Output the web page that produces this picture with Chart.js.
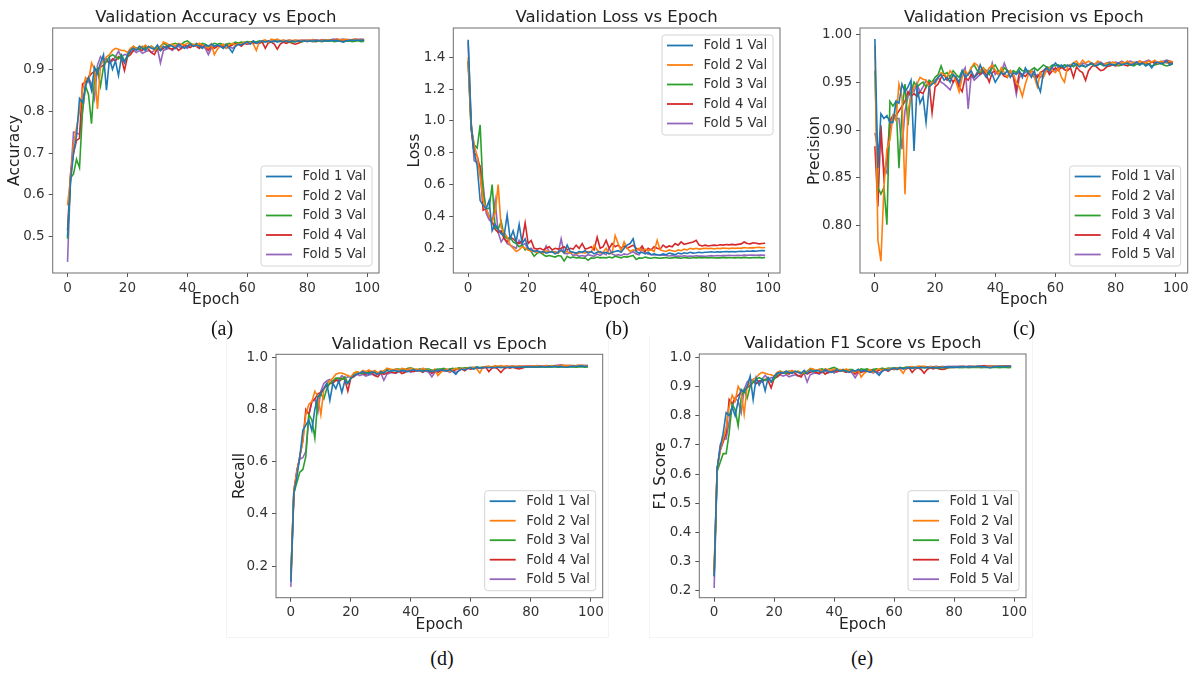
<!DOCTYPE html>
<html>
<head>
<meta charset="utf-8">
<script src="https://cdn.jsdelivr.net/npm/chart.js@4.4.1/dist/chart.umd.min.js"></script>
<style>
  body { margin: 0; background: #fff; width: 1192px; height: 673px; overflow: hidden; position: relative; }
  canvas { position: absolute; }
  .cap { position: absolute; font: 20px 'Liberation Serif', serif; color: #111; transform: translate(-50%, -50%); }
  .panel { position: absolute; border: 1px solid #f4f4f4; border-top: none; }
</style>
</head>
<body>
<div class="panel" style="left:226px;top:336px;width:381px;height:301px"></div>
<div class="panel" style="left:649px;top:336px;width:382px;height:301px"></div>
<canvas id="acc"></canvas>
<canvas id="loss"></canvas>
<canvas id="prec"></canvas>
<canvas id="rec"></canvas>
<canvas id="f1"></canvas>
<div class="cap" style="left:222px;top:328px">(a)</div>
<div class="cap" style="left:617px;top:328px">(b)</div>
<div class="cap" style="left:1024px;top:328px">(c)</div>
<div class="cap" style="left:442px;top:658px">(d)</div>
<div class="cap" style="left:862px;top:658px">(e)</div>
<script>
// epochs 0..99 on the x axis
var epochs = Array.from({ length: 100 }, function (_, i) { return i; });
var foldLabels = ['Fold 1 Val', 'Fold 2 Val', 'Fold 3 Val', 'Fold 4 Val', 'Fold 5 Val'];
var foldColors = ['#1f77b4', '#ff7f0e', '#2ca02c', '#d62728', '#9467bd'];

// accuracy
var accFold1 = [0.500,0.630,0.700,0.740,0.830,0.820,0.860,0.880,0.850,0.905,
  0.890,0.915,0.935,0.850,0.925,0.900,0.920,0.885,0.930,0.915,
  0.935,0.945,0.950,0.945,0.955,0.950,0.945,0.955,0.950,0.948,
  0.958,0.945,0.955,0.950,0.958,0.955,0.950,0.960,0.955,0.950,
  0.955,0.960,0.955,0.958,0.955,0.950,0.958,0.955,0.960,0.955,
  0.958,0.955,0.950,0.958,0.950,0.940,0.955,0.960,0.958,0.962,
  0.965,0.960,0.968,0.962,0.965,0.968,0.965,0.968,0.965,0.968,
  0.965,0.968,0.966,0.968,0.966,0.968,0.966,0.968,0.967,0.968,
  0.967,0.968,0.967,0.969,0.968,0.967,0.969,0.968,0.970,0.968,
  0.969,0.967,0.965,0.968,0.969,0.970,0.969,0.970,0.969,0.970];
var accFold2 = [0.575,0.640,0.720,0.760,0.800,0.850,0.880,0.870,0.915,0.900,
  0.805,0.910,0.920,0.930,0.935,0.945,0.950,0.948,0.945,0.945,
  0.940,0.950,0.955,0.948,0.955,0.952,0.958,0.950,0.955,0.945,
  0.955,0.950,0.965,0.962,0.958,0.960,0.955,0.962,0.960,0.958,
  0.962,0.958,0.960,0.955,0.962,0.958,0.955,0.950,0.960,0.935,
  0.948,0.955,0.960,0.950,0.958,0.962,0.958,0.962,0.960,0.965,
  0.962,0.965,0.960,0.945,0.965,0.968,0.970,0.965,0.972,0.970,
  0.972,0.968,0.970,0.968,0.970,0.968,0.970,0.969,0.968,0.970,
  0.968,0.970,0.969,0.970,0.968,0.970,0.969,0.971,0.970,0.969,
  0.970,0.971,0.970,0.972,0.970,0.971,0.972,0.971,0.970,0.971];
var accFold3 = [0.495,0.640,0.650,0.685,0.665,0.800,0.860,0.840,0.770,0.880,
  0.900,0.860,0.905,0.920,0.930,0.935,0.930,0.925,0.935,0.920,
  0.930,0.945,0.955,0.950,0.948,0.955,0.950,0.952,0.955,0.950,
  0.948,0.955,0.962,0.958,0.955,0.960,0.962,0.958,0.960,0.965,
  0.968,0.962,0.958,0.960,0.958,0.962,0.960,0.955,0.958,0.962,
  0.960,0.962,0.958,0.960,0.962,0.960,0.965,0.963,0.965,0.964,
  0.966,0.965,0.967,0.965,0.968,0.966,0.968,0.967,0.966,0.968,
  0.967,0.966,0.968,0.967,0.966,0.965,0.966,0.967,0.966,0.967,
  0.968,0.967,0.966,0.968,0.967,0.966,0.968,0.967,0.968,0.966,
  0.967,0.968,0.966,0.967,0.968,0.966,0.967,0.968,0.966,0.967];
var accFold4 = [0.515,0.650,0.700,0.730,0.735,0.865,0.870,0.880,0.890,0.895,
  0.900,0.905,0.910,0.920,0.915,0.925,0.920,0.930,0.925,0.897,
  0.930,0.935,0.945,0.950,0.948,0.945,0.955,0.948,0.940,0.935,
  0.950,0.945,0.950,0.955,0.950,0.948,0.955,0.945,0.950,0.958,
  0.955,0.952,0.958,0.955,0.950,0.958,0.955,0.945,0.955,0.950,
  0.955,0.958,0.955,0.960,0.955,0.958,0.962,0.960,0.955,0.962,
  0.960,0.965,0.962,0.965,0.962,0.965,0.950,0.963,0.965,0.960,
  0.948,0.960,0.965,0.962,0.965,0.962,0.960,0.962,0.965,0.968,
  0.966,0.968,0.967,0.966,0.968,0.969,0.967,0.968,0.969,0.970,
  0.972,0.970,0.969,0.970,0.968,0.970,0.969,0.971,0.970,0.968];
var accFold5 = [0.440,0.640,0.750,0.748,0.745,0.800,0.860,0.880,0.865,0.830,
  0.910,0.930,0.920,0.925,0.915,0.920,0.930,0.943,0.930,0.935,
  0.935,0.940,0.945,0.940,0.945,0.938,0.942,0.945,0.940,0.945,
  0.950,0.915,0.945,0.948,0.950,0.945,0.952,0.955,0.950,0.955,
  0.950,0.958,0.955,0.962,0.958,0.955,0.950,0.935,0.950,0.955,
  0.958,0.955,0.955,0.950,0.955,0.950,0.955,0.960,0.958,0.962,
  0.960,0.962,0.965,0.962,0.966,0.965,0.967,0.965,0.968,0.966,
  0.968,0.967,0.969,0.968,0.970,0.968,0.969,0.968,0.970,0.969,
  0.970,0.969,0.971,0.970,0.969,0.971,0.970,0.969,0.971,0.972,
  0.970,0.971,0.972,0.970,0.971,0.970,0.972,0.971,0.972,0.971];

// loss
var lossFold1 = [1.510,0.980,0.800,0.720,0.500,0.470,0.450,0.500,0.310,0.350,
  0.320,0.290,0.280,0.410,0.260,0.310,0.240,0.350,0.230,0.260,
  0.200,0.190,0.180,0.185,0.175,0.180,0.170,0.175,0.180,0.165,
  0.175,0.190,0.170,0.220,0.180,0.175,0.170,0.180,0.175,0.185,
  0.170,0.180,0.165,0.175,0.180,0.170,0.175,0.165,0.175,0.180,
  0.185,0.175,0.200,0.220,0.230,0.260,0.180,0.170,0.175,0.165,
  0.175,0.160,0.165,0.160,0.158,0.165,0.160,0.170,0.165,0.160,
  0.170,0.165,0.172,0.168,0.175,0.170,0.172,0.175,0.172,0.175,
  0.175,0.178,0.175,0.178,0.176,0.178,0.180,0.178,0.180,0.178,
  0.180,0.182,0.180,0.183,0.182,0.184,0.182,0.185,0.186,0.185];
var lossFold2 = [1.400,0.970,0.850,0.780,0.650,0.500,0.450,0.400,0.370,0.420,
  0.600,0.330,0.300,0.270,0.220,0.200,0.180,0.190,0.210,0.200,
  0.190,0.180,0.185,0.175,0.180,0.170,0.185,0.178,0.180,0.175,
  0.170,0.185,0.175,0.180,0.170,0.175,0.165,0.170,0.175,0.170,
  0.180,0.175,0.220,0.190,0.170,0.175,0.200,0.165,0.170,0.280,
  0.230,0.185,0.240,0.200,0.180,0.190,0.185,0.200,0.185,0.195,
  0.185,0.190,0.180,0.250,0.190,0.185,0.180,0.190,0.185,0.180,
  0.190,0.185,0.195,0.190,0.200,0.195,0.200,0.195,0.198,0.200,
  0.198,0.200,0.196,0.200,0.198,0.202,0.200,0.198,0.202,0.200,
  0.202,0.200,0.205,0.202,0.204,0.203,0.205,0.206,0.204,0.205];
var lossFold3 = [1.380,0.950,0.850,0.830,0.975,0.550,0.450,0.450,0.600,0.330,
  0.320,0.370,0.280,0.260,0.270,0.240,0.230,0.210,0.220,0.190,
  0.200,0.180,0.150,0.170,0.175,0.160,0.150,0.155,0.150,0.145,
  0.155,0.150,0.120,0.150,0.140,0.145,0.140,0.142,0.138,0.140,
  0.125,0.140,0.138,0.145,0.140,0.142,0.140,0.145,0.140,0.150,
  0.145,0.140,0.148,0.145,0.150,0.155,0.130,0.140,0.138,0.145,
  0.140,0.138,0.142,0.140,0.138,0.140,0.142,0.138,0.140,0.142,
  0.140,0.138,0.142,0.140,0.138,0.142,0.140,0.143,0.140,0.142,
  0.140,0.142,0.139,0.141,0.140,0.143,0.140,0.142,0.141,0.140,
  0.142,0.140,0.143,0.141,0.140,0.142,0.141,0.143,0.140,0.142];
var lossFold4 = [1.370,0.950,0.800,0.780,0.700,0.440,0.450,0.400,0.370,0.320,
  0.300,0.310,0.260,0.240,0.270,0.260,0.240,0.230,0.250,0.360,
  0.230,0.250,0.200,0.195,0.200,0.190,0.200,0.210,0.190,0.200,
  0.195,0.200,0.210,0.190,0.200,0.195,0.220,0.200,0.230,0.195,
  0.200,0.210,0.190,0.270,0.200,0.210,0.250,0.200,0.230,0.210,
  0.220,0.200,0.215,0.200,0.210,0.220,0.200,0.190,0.215,0.180,
  0.200,0.190,0.210,0.200,0.195,0.220,0.205,0.215,0.210,0.230,
  0.220,0.240,0.225,0.230,0.235,0.240,0.250,0.220,0.215,0.220,
  0.215,0.218,0.220,0.218,0.222,0.220,0.224,0.222,0.225,0.222,
  0.225,0.228,0.240,0.230,0.228,0.235,0.232,0.228,0.230,0.232];
var lossFold5 = [1.500,1.000,0.750,0.740,0.720,0.600,0.420,0.380,0.360,0.500,
  0.300,0.240,0.270,0.230,0.220,0.210,0.200,0.250,0.220,0.230,
  0.190,0.200,0.180,0.175,0.180,0.170,0.215,0.180,0.175,0.180,
  0.170,0.260,0.170,0.165,0.175,0.155,0.160,0.150,0.155,0.150,
  0.160,0.155,0.150,0.165,0.155,0.170,0.160,0.200,0.165,0.155,
  0.160,0.155,0.165,0.160,0.170,0.180,0.165,0.160,0.200,0.170,
  0.165,0.160,0.158,0.160,0.155,0.158,0.155,0.152,0.155,0.150,
  0.152,0.150,0.153,0.150,0.152,0.150,0.153,0.151,0.152,0.150,
  0.152,0.154,0.152,0.155,0.153,0.155,0.154,0.156,0.155,0.154,
  0.156,0.155,0.157,0.156,0.158,0.157,0.156,0.158,0.157,0.156];

// precision
var precFold1 = [0.995,0.860,0.917,0.912,0.915,0.908,0.908,0.930,0.928,0.948,
  0.940,0.945,0.952,0.878,0.945,0.928,0.935,0.908,0.945,0.948,
  0.950,0.955,0.958,0.952,0.955,0.950,0.958,0.955,0.950,0.962,
  0.955,0.958,0.962,0.955,0.958,0.968,0.960,0.955,0.962,0.958,
  0.950,0.955,0.960,0.958,0.962,0.955,0.960,0.958,0.962,0.955,
  0.965,0.960,0.955,0.962,0.948,0.940,0.960,0.965,0.962,0.966,
  0.970,0.966,0.968,0.965,0.968,0.966,0.970,0.968,0.966,0.968,
  0.966,0.968,0.970,0.967,0.968,0.970,0.968,0.967,0.969,0.968,
  0.968,0.970,0.968,0.969,0.970,0.968,0.969,0.971,0.968,0.970,
  0.967,0.969,0.965,0.970,0.971,0.969,0.970,0.972,0.968,0.970];
var precFold2 = [0.988,0.785,0.763,0.840,0.880,0.890,0.915,0.910,0.948,0.935,
  0.833,0.920,0.935,0.945,0.948,0.955,0.953,0.952,0.945,0.950,
  0.948,0.955,0.960,0.958,0.955,0.962,0.958,0.950,0.940,0.955,
  0.962,0.958,0.965,0.970,0.968,0.962,0.965,0.960,0.965,0.968,
  0.962,0.958,0.965,0.960,0.955,0.962,0.958,0.950,0.945,0.935,
  0.948,0.958,0.962,0.955,0.945,0.960,0.955,0.962,0.965,0.962,
  0.960,0.965,0.955,0.950,0.966,0.968,0.970,0.972,0.968,0.973,
  0.970,0.972,0.970,0.968,0.972,0.970,0.968,0.970,0.969,0.971,
  0.970,0.968,0.971,0.970,0.972,0.969,0.971,0.970,0.972,0.971,
  0.970,0.972,0.971,0.973,0.970,0.972,0.971,0.970,0.972,0.971];
var precFold3 = [0.962,0.840,0.833,0.840,0.801,0.930,0.925,0.930,0.860,0.920,
  0.948,0.905,0.940,0.950,0.945,0.948,0.950,0.945,0.952,0.950,
  0.955,0.958,0.967,0.958,0.960,0.955,0.962,0.958,0.955,0.962,
  0.960,0.958,0.965,0.968,0.962,0.960,0.965,0.962,0.958,0.965,
  0.968,0.962,0.960,0.965,0.962,0.960,0.962,0.960,0.965,0.962,
  0.962,0.960,0.963,0.965,0.962,0.965,0.968,0.966,0.965,0.968,
  0.967,0.968,0.966,0.968,0.967,0.968,0.966,0.969,0.968,0.967,
  0.966,0.968,0.969,0.967,0.968,0.969,0.967,0.968,0.970,0.968,
  0.969,0.967,0.968,0.970,0.969,0.968,0.967,0.969,0.968,0.970,
  0.968,0.969,0.967,0.968,0.969,0.970,0.968,0.967,0.968,0.969];
var precFold4 = [0.883,0.820,0.905,0.850,0.870,0.910,0.915,0.915,0.920,0.925,
  0.930,0.940,0.935,0.938,0.935,0.940,0.938,0.945,0.950,0.918,
  0.945,0.948,0.955,0.958,0.952,0.955,0.950,0.955,0.945,0.940,
  0.955,0.952,0.958,0.955,0.960,0.958,0.962,0.958,0.950,0.960,
  0.962,0.958,0.960,0.956,0.955,0.962,0.958,0.942,0.960,0.958,
  0.956,0.960,0.962,0.958,0.955,0.960,0.962,0.965,0.958,0.962,
  0.965,0.962,0.966,0.963,0.962,0.965,0.955,0.966,0.962,0.960,
  0.952,0.962,0.966,0.968,0.965,0.962,0.963,0.966,0.967,0.968,
  0.967,0.968,0.969,0.968,0.967,0.969,0.968,0.970,0.969,0.971,
  0.970,0.969,0.971,0.970,0.969,0.970,0.971,0.972,0.970,0.971];
var precFold5 = [0.897,0.880,0.890,0.860,0.855,0.900,0.915,0.912,0.912,0.880,
  0.920,0.935,0.945,0.940,0.948,0.940,0.945,0.952,0.948,0.950,
  0.952,0.955,0.950,0.948,0.945,0.942,0.950,0.955,0.945,0.960,
  0.965,0.922,0.958,0.952,0.955,0.958,0.960,0.962,0.958,0.970,
  0.958,0.962,0.960,0.970,0.962,0.960,0.955,0.937,0.955,0.958,
  0.960,0.962,0.958,0.955,0.958,0.955,0.958,0.962,0.960,0.965,
  0.962,0.966,0.965,0.968,0.966,0.968,0.967,0.969,0.968,0.970,
  0.969,0.968,0.970,0.969,0.970,0.971,0.969,0.970,0.971,0.970,
  0.971,0.970,0.972,0.970,0.971,0.972,0.970,0.971,0.972,0.970,
  0.972,0.973,0.971,0.972,0.970,0.971,0.972,0.973,0.972,0.971];

// recall
var recFold1 = [0.140,0.480,0.540,0.620,0.720,0.740,0.760,0.720,0.800,0.850,
  0.860,0.880,0.900,0.835,0.900,0.880,0.910,0.865,0.910,0.900,
  0.920,0.930,0.935,0.940,0.945,0.940,0.935,0.945,0.940,0.935,
  0.945,0.940,0.950,0.945,0.950,0.948,0.945,0.950,0.948,0.945,
  0.950,0.952,0.948,0.950,0.945,0.950,0.948,0.945,0.950,0.948,
  0.952,0.950,0.948,0.952,0.945,0.935,0.950,0.955,0.952,0.958,
  0.960,0.955,0.962,0.958,0.960,0.962,0.960,0.962,0.960,0.963,
  0.960,0.962,0.961,0.963,0.962,0.963,0.962,0.964,0.963,0.964,
  0.963,0.964,0.963,0.965,0.964,0.963,0.965,0.964,0.966,0.964,
  0.965,0.963,0.962,0.965,0.966,0.965,0.966,0.967,0.965,0.966];
var recFold2 = [0.150,0.490,0.560,0.620,0.680,0.780,0.820,0.830,0.870,0.850,
  0.780,0.880,0.900,0.910,0.920,0.935,0.940,0.940,0.935,0.930,
  0.925,0.940,0.945,0.940,0.950,0.945,0.952,0.945,0.950,0.940,
  0.948,0.945,0.958,0.955,0.952,0.955,0.950,0.958,0.955,0.952,
  0.958,0.952,0.955,0.950,0.958,0.952,0.950,0.945,0.955,0.930,
  0.942,0.950,0.955,0.945,0.952,0.958,0.952,0.958,0.955,0.960,
  0.958,0.962,0.955,0.940,0.962,0.965,0.966,0.962,0.968,0.966,
  0.968,0.965,0.967,0.965,0.967,0.965,0.966,0.966,0.965,0.967,
  0.965,0.967,0.966,0.967,0.965,0.967,0.966,0.968,0.967,0.966,
  0.967,0.968,0.967,0.969,0.967,0.968,0.969,0.968,0.967,0.968];
var recFold3 = [0.150,0.480,0.520,0.560,0.570,0.620,0.780,0.760,0.690,0.840,
  0.860,0.840,0.880,0.900,0.910,0.920,0.920,0.915,0.925,0.900,
  0.920,0.935,0.945,0.940,0.938,0.945,0.940,0.942,0.945,0.940,
  0.940,0.948,0.955,0.952,0.948,0.955,0.955,0.950,0.952,0.958,
  0.960,0.955,0.952,0.955,0.952,0.955,0.955,0.950,0.952,0.955,
  0.955,0.958,0.952,0.955,0.958,0.955,0.960,0.958,0.960,0.960,
  0.962,0.960,0.963,0.961,0.963,0.962,0.964,0.963,0.962,0.964,
  0.963,0.962,0.964,0.963,0.962,0.961,0.962,0.963,0.962,0.963,
  0.964,0.963,0.962,0.964,0.963,0.962,0.964,0.963,0.964,0.962,
  0.963,0.964,0.962,0.963,0.964,0.962,0.963,0.964,0.962,0.963];
var recFold4 = [0.160,0.490,0.560,0.620,0.680,0.800,0.780,0.830,0.840,0.860,
  0.865,0.880,0.890,0.900,0.900,0.915,0.905,0.920,0.915,0.870,
  0.920,0.925,0.935,0.940,0.938,0.935,0.945,0.940,0.930,0.925,
  0.940,0.935,0.940,0.945,0.942,0.940,0.948,0.938,0.942,0.950,
  0.948,0.945,0.950,0.948,0.942,0.950,0.948,0.938,0.948,0.942,
  0.948,0.952,0.948,0.955,0.948,0.952,0.958,0.955,0.948,0.958,
  0.955,0.960,0.958,0.960,0.958,0.962,0.945,0.958,0.962,0.955,
  0.942,0.955,0.962,0.958,0.962,0.958,0.955,0.958,0.962,0.965,
  0.963,0.965,0.964,0.963,0.965,0.966,0.964,0.965,0.966,0.968,
  0.970,0.968,0.966,0.967,0.965,0.967,0.966,0.968,0.967,0.965];
var recFold5 = [0.120,0.470,0.570,0.610,0.615,0.640,0.780,0.830,0.840,0.790,
  0.870,0.900,0.910,0.915,0.905,0.910,0.915,0.930,0.920,0.925,
  0.925,0.930,0.935,0.930,0.935,0.928,0.932,0.935,0.930,0.935,
  0.940,0.912,0.935,0.940,0.942,0.938,0.945,0.948,0.942,0.948,
  0.942,0.950,0.948,0.955,0.950,0.948,0.942,0.925,0.942,0.948,
  0.952,0.948,0.948,0.942,0.948,0.942,0.948,0.955,0.952,0.958,
  0.955,0.958,0.962,0.958,0.963,0.962,0.964,0.962,0.965,0.963,
  0.965,0.964,0.966,0.965,0.967,0.965,0.966,0.965,0.967,0.966,
  0.967,0.966,0.968,0.967,0.966,0.968,0.967,0.966,0.968,0.969,
  0.967,0.968,0.969,0.967,0.968,0.967,0.969,0.968,0.969,0.968];

// f1 score
var f1Fold1 = [0.250,0.620,0.690,0.740,0.810,0.800,0.830,0.800,0.850,0.890,
  0.880,0.900,0.935,0.855,0.930,0.905,0.925,0.885,0.930,0.915,
  0.935,0.945,0.948,0.945,0.952,0.948,0.945,0.952,0.948,0.945,
  0.955,0.945,0.955,0.950,0.955,0.953,0.948,0.958,0.952,0.948,
  0.952,0.958,0.952,0.955,0.952,0.948,0.955,0.952,0.958,0.952,
  0.955,0.952,0.948,0.955,0.948,0.938,0.952,0.958,0.955,0.960,
  0.963,0.958,0.965,0.960,0.963,0.965,0.962,0.965,0.963,0.966,
  0.963,0.966,0.964,0.966,0.964,0.966,0.965,0.967,0.966,0.967,
  0.966,0.967,0.966,0.968,0.967,0.966,0.968,0.967,0.969,0.967,
  0.968,0.966,0.964,0.967,0.968,0.969,0.968,0.969,0.968,0.969];
var f1Fold2 = [0.260,0.620,0.680,0.720,0.760,0.830,0.870,0.850,0.900,0.880,
  0.805,0.900,0.915,0.925,0.930,0.942,0.948,0.945,0.942,0.940,
  0.935,0.948,0.952,0.945,0.952,0.950,0.955,0.948,0.952,0.942,
  0.952,0.948,0.962,0.960,0.955,0.958,0.952,0.960,0.958,0.955,
  0.960,0.955,0.958,0.952,0.960,0.955,0.952,0.948,0.958,0.932,
  0.945,0.952,0.958,0.948,0.955,0.960,0.955,0.960,0.958,0.962,
  0.960,0.963,0.958,0.945,0.963,0.966,0.968,0.963,0.970,0.968,
  0.970,0.966,0.968,0.966,0.968,0.966,0.968,0.967,0.966,0.968,
  0.967,0.968,0.967,0.969,0.967,0.968,0.968,0.969,0.968,0.967,
  0.968,0.969,0.968,0.970,0.968,0.969,0.970,0.969,0.968,0.969];
var f1Fold3 = [0.250,0.610,0.640,0.670,0.670,0.740,0.840,0.820,0.765,0.860,
  0.890,0.860,0.900,0.915,0.925,0.930,0.925,0.920,0.930,0.915,
  0.925,0.940,0.952,0.948,0.945,0.952,0.948,0.950,0.952,0.948,
  0.945,0.952,0.960,0.955,0.952,0.958,0.960,0.955,0.958,0.962,
  0.965,0.960,0.955,0.958,0.955,0.958,0.958,0.952,0.955,0.960,
  0.958,0.960,0.955,0.958,0.960,0.958,0.963,0.960,0.963,0.962,
  0.964,0.963,0.965,0.963,0.966,0.964,0.966,0.965,0.964,0.966,
  0.965,0.964,0.966,0.965,0.964,0.963,0.964,0.965,0.964,0.965,
  0.966,0.965,0.964,0.966,0.965,0.964,0.966,0.965,0.966,0.964,
  0.965,0.966,0.964,0.965,0.966,0.964,0.965,0.966,0.964,0.965];
var f1Fold4 = [0.270,0.620,0.680,0.710,0.740,0.855,0.840,0.860,0.870,0.880,
  0.885,0.895,0.905,0.915,0.910,0.920,0.915,0.925,0.920,0.895,
  0.928,0.932,0.942,0.948,0.945,0.942,0.952,0.945,0.937,0.932,
  0.948,0.942,0.948,0.952,0.948,0.945,0.952,0.942,0.948,0.955,
  0.952,0.950,0.955,0.952,0.948,0.955,0.952,0.942,0.952,0.948,
  0.952,0.955,0.952,0.958,0.952,0.955,0.960,0.958,0.952,0.960,
  0.958,0.963,0.960,0.963,0.960,0.964,0.948,0.960,0.964,0.958,
  0.945,0.958,0.964,0.960,0.964,0.960,0.958,0.960,0.964,0.966,
  0.965,0.967,0.966,0.965,0.967,0.968,0.966,0.967,0.968,0.969,
  0.971,0.969,0.968,0.969,0.967,0.969,0.968,0.970,0.969,0.967];
var f1Fold5 = [0.210,0.610,0.700,0.720,0.720,0.780,0.830,0.860,0.850,0.810,
  0.890,0.915,0.925,0.920,0.910,0.915,0.925,0.938,0.925,0.930,
  0.930,0.935,0.940,0.935,0.940,0.933,0.937,0.940,0.935,0.940,
  0.945,0.915,0.940,0.944,0.946,0.942,0.948,0.952,0.946,0.952,
  0.946,0.954,0.952,0.958,0.954,0.952,0.946,0.930,0.946,0.952,
  0.955,0.952,0.952,0.946,0.952,0.946,0.952,0.958,0.955,0.960,
  0.958,0.960,0.963,0.960,0.965,0.963,0.966,0.963,0.967,0.965,
  0.967,0.966,0.968,0.967,0.969,0.967,0.968,0.967,0.969,0.968,
  0.969,0.968,0.970,0.969,0.968,0.970,0.969,0.968,0.970,0.971,
  0.969,0.970,0.971,0.969,0.970,0.969,0.971,0.970,0.971,0.970];

Chart.defaults.font.family = "'DejaVu Sans', sans-serif";

// axes box, matplotlib style legend inside the axes
var frameLegend = {
  id: 'frameLegend',
  afterDraw: function (chart, args, opts) {
    var ctx = chart.ctx;
    var a = chart.chartArea;
    ctx.save();
    ctx.strokeStyle = '#6e6e6e';
    ctx.lineWidth = 1;
    ctx.strokeRect(a.left, a.top, a.right - a.left, a.bottom - a.top);

    var bw = 111, bh = 100, inset = 7;
    var x0 = a.right - inset - bw;
    var y0 = opts.position == 'top' ? a.top + inset : a.bottom - inset - bh;
    ctx.beginPath();
    ctx.roundRect(x0, y0, bw, bh, 3);
    ctx.fillStyle = 'rgba(255,255,255,0.85)';
    ctx.fill();
    ctx.strokeStyle = '#d4d4d4';
    ctx.stroke();
    ctx.font = "13.2px 'DejaVu Sans'";
    ctx.textBaseline = 'middle';
    chart.data.datasets.forEach(function (ds, i) {
      var cy = y0 + 10.5 + i * 19.5;
      ctx.beginPath();
      ctx.moveTo(x0 + 5, cy);
      ctx.lineTo(x0 + 31, cy);
      ctx.strokeStyle = ds.borderColor;
      ctx.lineWidth = 1.8;
      ctx.stroke();
      ctx.fillStyle = '#333';
      ctx.fillText(ds.label, x0 + 41.5, cy + 0.5);
    });
    ctx.restore();
  }
};

var panels = [
  { id: 'acc', title: 'Validation Accuracy vs Epoch', ylab: 'Accuracy', series: [accFold1, accFold2, accFold3, accFold4, accFold5],
    ymin: 0.4134, ymax: 0.9986, step: 0.1, dec: 1, legend: 'bottom', L: 52.7, T: 28, W: 326.3, H: 245, ylabX: 15, xlabY: 300 },
  { id: 'loss', title: 'Validation Loss vs Epoch', ylab: 'Loss', series: [lossFold1, lossFold2, lossFold3, lossFold4, lossFold5],
    ymin: 0.045, ymax: 1.584, step: 0.2, dec: 1, legend: 'top', L: 453.3, T: 28, W: 326.7, H: 245, ylabX: 415.7, xlabY: 300 },
  { id: 'prec', title: 'Validation Precision vs Epoch', ylab: 'Precision', series: [precFold1, precFold2, precFold3, precFold4, precFold5],
    ymin: 0.7506, ymax: 1.0066, step: 0.05, dec: 2, legend: 'bottom', L: 860, T: 28, W: 327.7, H: 245, ylabX: 815, xlabY: 300 },
  { id: 'rec', title: 'Validation Recall vs Epoch', ylab: 'Recall', series: [recFold1, recFold2, recFold3, recFold4, recFold5],
    ymin: 0.0785, ymax: 1.0115, step: 0.2, dec: 1, legend: 'bottom', L: 276, T: 354.3, W: 326.7, H: 243.4, ylabX: 240, xlabY: 625 },
  { id: 'f1', title: 'Validation F1 Score vs Epoch', ylab: 'F1 Score', series: [f1Fold1, f1Fold2, f1Fold3, f1Fold4, f1Fold5],
    ymin: 0.177, ymax: 1.011, step: 0.1, dec: 1, legend: 'bottom', L: 699.3, T: 354, W: 326.7, H: 243.7, ylabX: 661.7, xlabY: 625 }
];

function drawPanel(p) {
  var lhT = 16.5 * 1.2, lhL = 15.5 * 1.2;
  var left = Math.round(p.ylabX - lhL / 2);
  var top = Math.floor(p.T - lhT);
  var right = Math.min(1192, Math.round(p.L + p.W + 6));
  var bottom = Math.round(p.xlabY + lhL / 2);
  var cv = document.getElementById(p.id);
  cv.width = right - left;
  cv.height = bottom - top;
  cv.style.left = left + 'px';
  cv.style.top = top + 'px';
  cv.style.width = (right - left) + 'px';
  cv.style.height = (bottom - top) + 'px';

  var datasets = p.series.map(function (s, i) {
    return { label: foldLabels[i], data: s, borderColor: foldColors[i], backgroundColor: foldColors[i],
      borderWidth: 1.6, pointRadius: 0, fill: false, tension: 0 };
  });

  new Chart(cv, {
    type: 'line',
    data: { labels: epochs, datasets: datasets },
    options: {
      responsive: false,
      animation: false,
      devicePixelRatio: 1,
      layout: { padding: { left: 0, top: 0, bottom: 0, right: right - (p.L + p.W) } },
      plugins: {
        legend: { display: false },
        tooltip: { enabled: false },
        title: { display: true, text: p.title, fullSize: false, color: '#222',
          font: { size: 16.5, lineHeight: 1.2, weight: 'normal' }, padding: { top: p.T - top - lhT, bottom: 0 } },
        frameLegend: { position: p.legend }
      },
      scales: {
        x: {
          type: 'linear', min: -4.95, max: 103.95,
          ticks: { stepSize: 20, includeBounds: false, color: '#333', font: { size: 13.5 }, padding: 3, maxRotation: 0 },
          grid: { drawOnChartArea: false, tickLength: 4, color: '#555' },
          border: { display: false },
          title: { display: true, text: 'Epoch', color: '#222', font: { size: 15.5, lineHeight: 1.2 }, padding: 0 },
          afterFit: function (s) { s.height = bottom - (p.T + p.H); s.paddingLeft = 0; s.paddingRight = 0; }
        },
        y: {
          min: p.ymin, max: p.ymax,
          ticks: { stepSize: p.step, includeBounds: false, color: '#333', font: { size: 13.5 }, padding: 4,
            callback: function (v) { return v.toFixed(p.dec); } },
          grid: { drawOnChartArea: false, tickLength: 4, color: '#555' },
          border: { display: false },
          title: { display: true, text: p.ylab, color: '#222', font: { size: 15.5, lineHeight: 1.2 }, padding: 0 },
          afterFit: function (s) { s.width = p.L - left; s.paddingTop = 0; s.paddingBottom = 0; }
        }
      }
    },
    plugins: [frameLegend]
  });
}

panels.forEach(drawPanel);
</script>
</body>
</html>
